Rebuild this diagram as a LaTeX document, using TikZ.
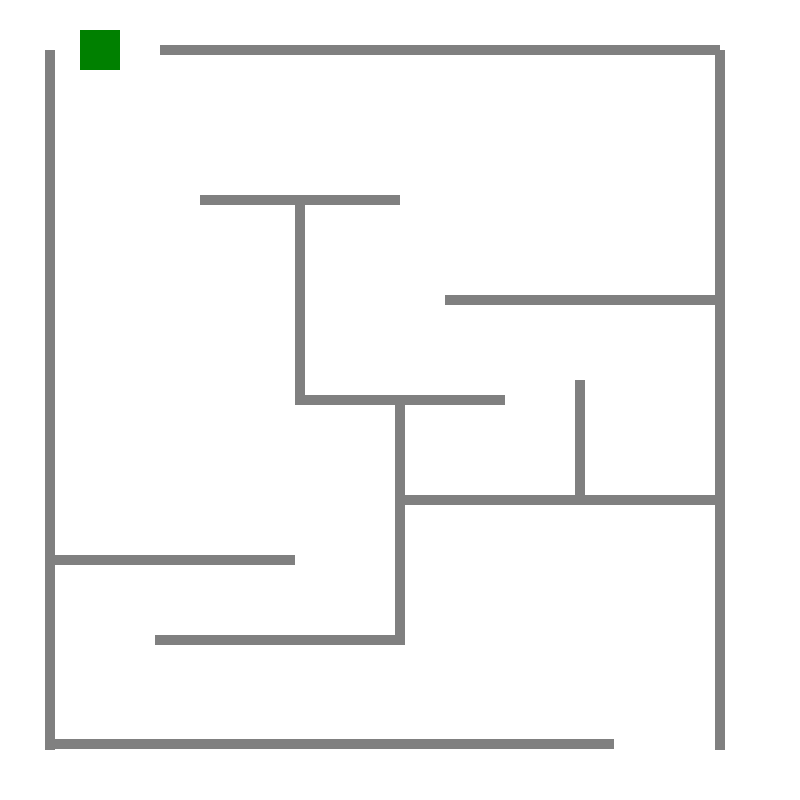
\documentclass[tikz,border=0pt]{standalone}
\definecolor{wallgray}{RGB}{128,128,128}
\definecolor{startgreen}{RGB}{0,128,0}
\begin{document}
\begin{tikzpicture}[x=1pt,y=-1pt,wall/.style={fill=wallgray},start/.style={fill=startgreen}]
\useasboundingbox[fill=white] (0,0) rectangle (800,800);
\fill[start] (80,30) rectangle (120,70);
\fill[wall] (45,50) rectangle (55,750);
\fill[wall] (160,45) rectangle (720,55);
\fill[wall] (715,50) rectangle (725,750);
\fill[wall] (50,739) rectangle (614,749);
\fill[wall] (200,195) rectangle (400,205);
\fill[wall] (295,205) rectangle (305,405);
\fill[wall] (295,395) rectangle (505,405);
\fill[wall] (395,405) rectangle (405,645);
\fill[wall] (445,295) rectangle (715,305);
\fill[wall] (575,380) rectangle (585,495);
\fill[wall] (405,495) rectangle (715,505);
\fill[wall] (55,555) rectangle (295,565);
\fill[wall] (155,635) rectangle (405,645);
\end{tikzpicture}
\end{document}
